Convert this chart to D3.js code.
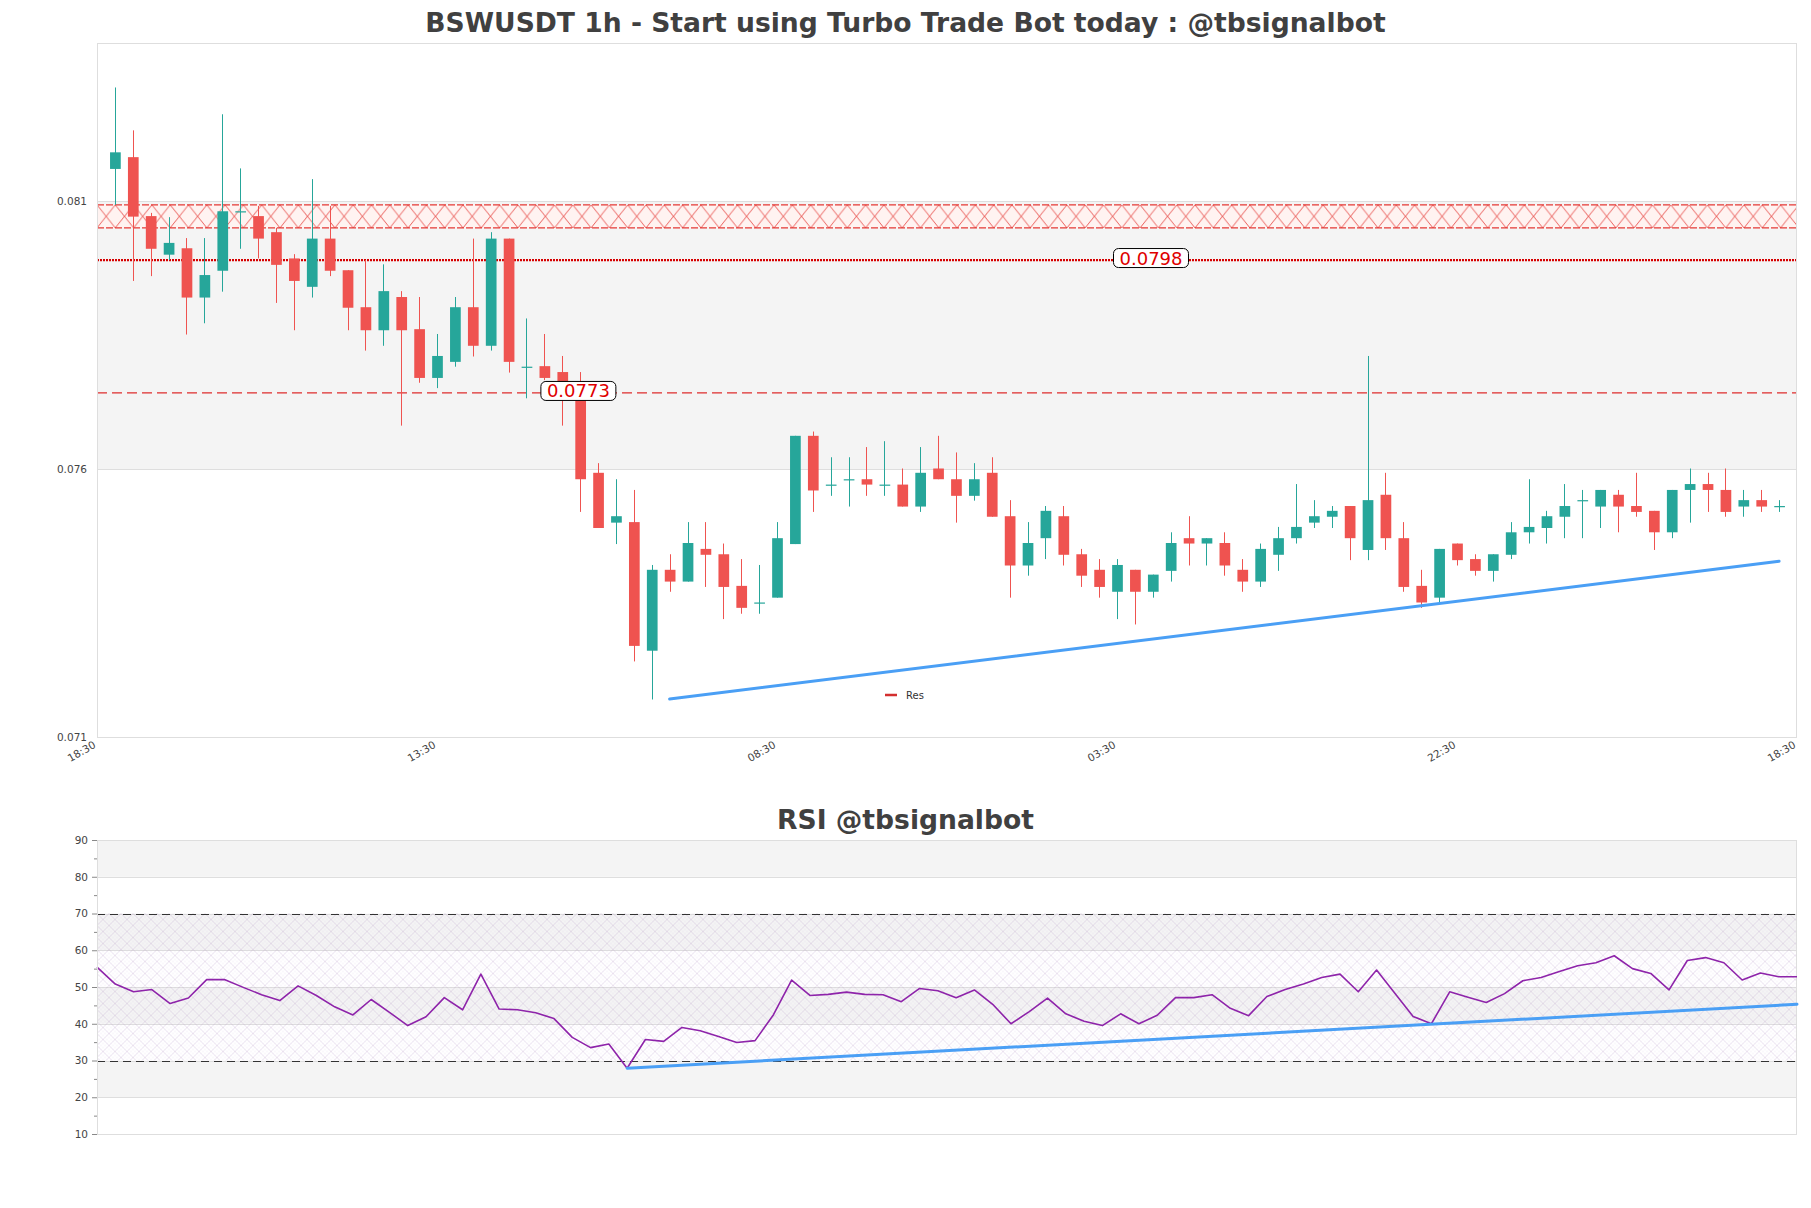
<!DOCTYPE html>
<html><head><meta charset="utf-8">
<script src="https://cdn.jsdelivr.net/npm/d3@7"></script>
<style>
body{margin:0;background:#fff;}
svg{display:block;font-family:"DejaVu Sans",sans-serif;}
</style>
</head><body>
<svg id="c" width="1811" height="1208"></svg>
<script>
// ---------- DATA ----------
const chartTitle = "BSWUSDT 1h - Start using Turbo Trade Bot today : @tbsignalbot";
const rsiTitle = "RSI @tbsignalbot";

const opens = [0.08160,0.08182,0.08072,0.08000,0.08012,0.07920,0.07970,0.08080,0.08072,0.08042,
0.07993,0.07940,0.08030,0.07971,0.07902,0.07859,0.07921,0.07861,0.07770,0.07800,
0.07902,0.07830,0.08030,0.07790,0.07792,0.07781,0.07760,0.07593,0.07500,0.07501,
0.07261,0.07412,0.07390,0.07451,0.07441,0.07382,0.07350,0.07360,0.07460,0.07662,
0.07570,0.07580,0.07581,0.07570,0.07571,0.07530,0.07601,0.07581,0.07550,0.07593,
0.07512,0.07420,0.07471,0.07512,0.07441,0.07412,0.07371,0.07412,0.07371,0.07410,
0.07471,0.07461,0.07462,0.07412,0.07390,0.07440,0.07471,0.07500,0.07511,0.07531,
0.07449,0.07552,0.07471,0.07382,0.07360,0.07461,0.07432,0.07410,0.07440,0.07482,
0.07490,0.07511,0.07541,0.07530,0.07552,0.07531,0.07522,0.07482,0.07561,0.07572,
0.07561,0.07530,0.07542,0.07530];
const highs = [0.08312,0.08232,0.08078,0.08070,0.08031,0.08031,0.08262,0.08161,0.08091,0.08050,
0.08001,0.08141,0.08091,0.07971,0.07990,0.07982,0.07932,0.07921,0.07852,0.07921,
0.08030,0.08042,0.08030,0.07881,0.07852,0.07811,0.07781,0.07611,0.07581,0.07561,
0.07421,0.07441,0.07501,0.07501,0.07461,0.07432,0.07421,0.07501,0.07662,0.07670,
0.07622,0.07622,0.07641,0.07652,0.07601,0.07641,0.07662,0.07631,0.07611,0.07622,
0.07542,0.07501,0.07531,0.07531,0.07451,0.07432,0.07432,0.07412,0.07403,0.07482,
0.07512,0.07471,0.07482,0.07432,0.07461,0.07492,0.07572,0.07542,0.07531,0.07531,
0.07811,0.07593,0.07501,0.07412,0.07451,0.07461,0.07441,0.07441,0.07501,0.07581,
0.07522,0.07572,0.07561,0.07561,0.07561,0.07593,0.07522,0.07561,0.07601,0.07593,
0.07601,0.07561,0.07561,0.07542];
const lows = [0.08093,0.07951,0.07960,0.07990,0.07851,0.07872,0.07931,0.08011,0.07993,0.07910,
0.07859,0.07920,0.07960,0.07859,0.07821,0.07830,0.07681,0.07761,0.07751,0.07791,
0.07810,0.07821,0.07780,0.07732,0.07766,0.07681,0.07520,0.07490,0.07460,0.07241,
0.07170,0.07371,0.07390,0.07380,0.07320,0.07330,0.07330,0.07360,0.07460,0.07520,
0.07550,0.07530,0.07550,0.07550,0.07530,0.07520,0.07581,0.07500,0.07541,0.07511,
0.07360,0.07401,0.07432,0.07420,0.07380,0.07360,0.07320,0.07310,0.07360,0.07390,
0.07420,0.07420,0.07401,0.07371,0.07380,0.07410,0.07461,0.07490,0.07490,0.07430,
0.07430,0.07449,0.07371,0.07341,0.07351,0.07420,0.07401,0.07390,0.07432,0.07461,
0.07461,0.07471,0.07471,0.07490,0.07482,0.07511,0.07449,0.07471,0.07500,0.07520,
0.07511,0.07511,0.07520,0.07520];
const closes = [0.08191,0.08071,0.08011,0.08022,0.07920,0.07962,0.08081,0.08081,0.08030,0.07981,
0.07951,0.08030,0.07970,0.07901,0.07859,0.07932,0.07859,0.07770,0.07811,0.07902,
0.07830,0.08030,0.07800,0.07791,0.07770,0.07760,0.07581,0.07490,0.07512,0.07270,
0.07412,0.07390,0.07462,0.07440,0.07380,0.07341,0.07351,0.07471,0.07662,0.07560,
0.07571,0.07581,0.07571,0.07571,0.07530,0.07593,0.07581,0.07550,0.07581,0.07511,
0.07420,0.07462,0.07522,0.07440,0.07401,0.07380,0.07421,0.07371,0.07403,0.07462,
0.07461,0.07471,0.07420,0.07390,0.07451,0.07471,0.07492,0.07512,0.07522,0.07471,
0.07542,0.07471,0.07380,0.07351,0.07451,0.07430,0.07410,0.07441,0.07482,0.07492,
0.07512,0.07531,0.07542,0.07561,0.07530,0.07520,0.07482,0.07561,0.07572,0.07561,
0.07520,0.07542,0.07530,0.07531];

const xTickIndex = [0, 19, 38, 57, 76, 95];
const xTickLabels = ["18:30", "13:30", "08:30", "03:30", "22:30", "18:30"];
const xSlots = 95;                 // category slots on the price axis
const priceTicks = [0.071, 0.076, 0.081];
const priceDomain = [0.071, 0.08395];

const resZone = [0.0805, 0.08093];
const levelValues = [0.07990, 0.07742];
const levelLabels = ["0.0798", "0.0773"];
const levelLabelAt = [58.9, 26.9];
const levelKinds = ["dotted", "dashed"];

const trendIdx = [32, 94];
const trendVal = [0.07171, 0.07428];
const legendLabels = ["Res"];

const rsi = [55.4,50.8,48.7,49.3,45.5,47.0,52.0,52.0,49.9,47.9,
46.3,50.3,47.7,44.6,42.4,46.6,43.1,39.5,41.9,47.1,
43.8,53.5,44.0,43.8,43.0,41.4,36.3,33.5,34.5,27.9,
35.7,35.2,39.0,38.1,36.5,34.9,35.4,42.4,51.9,47.7,
48.0,48.6,48.0,47.9,46.0,49.6,49.0,47.1,49.2,45.3,
40.0,43.3,47.0,42.7,40.7,39.5,42.7,40.0,42.3,47.1,
47.1,47.9,44.2,42.2,47.4,49.3,50.8,52.6,53.5,48.7,
54.6,48.3,42.0,40.0,48.7,47.2,45.8,48.2,51.7,52.6,
54.2,55.8,56.6,58.5,55.0,53.7,49.2,57.2,58.0,56.6,
51.9,53.8,52.8,52.8];
const rsiTicks = [10, 20, 30, 40, 50, 60, 70, 80, 90];
const rsiMinorTicks = [15, 25, 35, 45, 55, 65, 75, 85];
const rsiLevels = [70, 30];
const rsiZone = [30, 70];
const rsiTrendIdx = [29, 93];
const rsiTrendVal = [27.9, 45.3];

// ---------- LAYOUT ----------
const W = 1811;
const L = 97, R = 1797;
const mainTop = 43, mainBot = 737;
const rsiTop = 840, rsiBot = 1134;
const UP = "#26a69a", DOWN = "#ef5350";
const BAND = "#f4f4f4", GRID = "#dedede", TXT = "#444";

const svg = d3.select("#c");
const defs = svg.append("defs");

const x = d3.scaleLinear().domain([0, xSlots]).range([L, R]);
const y = d3.scaleLinear().domain(priceDomain).range([mainBot, mainTop]);
const xr = d3.scaleLinear().domain([0, rsi.length - 1]).range([L, R]);
const yr = d3.scaleLinear().domain([rsiTicks[0], rsiTicks[rsiTicks.length - 1]]).range([rsiBot, rsiTop]);

// titles fitted to reference widths
function fitTitle(txt, cx, baseY, targetW) {
  const t = svg.append("text").text(txt).attr("x", cx).attr("y", baseY)
    .attr("text-anchor", "middle").attr("font-weight", "bold")
    .attr("font-size", 27).attr("fill", "#404040");
  const w = t.node().getComputedTextLength();
  t.attr("font-size", 27 * targetW / w);
}
fitTitle(chartTitle, W / 2, 32, 961);
fitTitle(rsiTitle, W / 2, 829, 257);

// ---------- MAIN PRICE CHART ----------
const gm = svg.append("g");
const pBounds = [priceDomain[0], ...priceTicks.filter(t => t > priceDomain[0]), priceDomain[1]];
for (let k = 0; k < pBounds.length - 1; k++) {
  gm.append("rect").attr("x", L).attr("width", R - L)
    .attr("y", y(pBounds[k + 1])).attr("height", y(pBounds[k]) - y(pBounds[k + 1]))
    .attr("fill", k % 2 ? BAND : "#fff");
}
priceTicks.forEach(t => gm.append("line").attr("x1", L).attr("x2", R)
  .attr("y1", Math.round(y(t)) + 0.5).attr("y2", Math.round(y(t)) + 0.5)
  .attr("stroke", GRID).attr("stroke-width", 1));

// resistance zone hatch
const zTop = y(resZone[1]), zBot = y(resZone[0]), zH = zBot - zTop;
const pat = defs.append("pattern").attr("id", "zoneHatch").attr("patternUnits", "userSpaceOnUse")
  .attr("x", L).attr("y", zTop).attr("width", 18.3).attr("height", zH);
pat.append("rect").attr("width", 18.3).attr("height", zH).attr("fill", "#fff3f1");
pat.append("line").attr("x1", 0).attr("y1", 0).attr("x2", 18.3).attr("y2", zH).attr("stroke", "#e53935").attr("stroke-width", 0.8);
pat.append("line").attr("x1", 18.3).attr("y1", 0).attr("x2", 0).attr("y2", zH).attr("stroke", "#e53935").attr("stroke-width", 0.8);
gm.append("rect").attr("x", L).attr("width", R - L).attr("y", zTop).attr("height", zH).attr("fill", "url(#zoneHatch)");
[zTop, zBot].forEach(v => gm.append("line").attr("x1", L).attr("x2", R).attr("y1", v).attr("y2", v)
  .attr("stroke", "#e53935").attr("stroke-width", 1.2).attr("stroke-dasharray", "7,2"));

// horizontal levels
levelValues.forEach((v, k) => {
  const ln = gm.append("line").attr("x1", L).attr("x2", R).attr("y1", y(v)).attr("y2", y(v));
  if (levelKinds[k] === "dotted") ln.attr("stroke", "#d50000").attr("stroke-width", 2.2).attr("stroke-dasharray", "2,1");
  else ln.attr("stroke", "#dd2c2c").attr("stroke-width", 1.2).attr("stroke-dasharray", "10,5");
});

// border
gm.append("rect").attr("x", L + 0.5).attr("y", mainTop + 0.5).attr("width", R - L - 1).attr("height", mainBot - mainTop)
  .attr("fill", "none").attr("stroke", GRID);

// candles
const candles = opens.map((o, i) => ({ i: i + 1, o, h: highs[i], l: lows[i], c: closes[i] }));
const bw = 10.7;
const gc = gm.append("g");
gc.selectAll("line.wick").data(candles).join("line").attr("class", "wick")
  .attr("x1", d => Math.round(x(d.i)) + 0.5).attr("x2", d => Math.round(x(d.i)) + 0.5)
  .attr("y1", d => y(d.h)).attr("y2", d => y(d.l))
  .attr("stroke", d => d.c >= d.o ? UP : DOWN).attr("stroke-width", 1);
gc.selectAll("rect.body").data(candles).join("rect").attr("class", "body")
  .attr("x", d => x(d.i) - bw / 2 + 0.5).attr("width", bw)
  .attr("y", d => Math.min(y(d.o), y(d.c)))
  .attr("height", d => Math.max(1.2, Math.abs(y(d.o) - y(d.c))))
  .attr("fill", d => d.c >= d.o ? UP : DOWN);

// trend line
gm.append("line").attr("x1", x(trendIdx[0])).attr("y1", y(trendVal[0]))
  .attr("x2", x(trendIdx[1])).attr("y2", y(trendVal[1]))
  .attr("stroke", "#4a9ff5").attr("stroke-width", 3).attr("stroke-linecap", "round");

// level labels
levelValues.forEach((v, k) => {
  const g = gm.append("g").attr("transform", `translate(${x(levelLabelAt[k])},${y(v) - 2})`);
  const r = g.append("rect");
  const t = g.append("text").text(levelLabels[k]).attr("text-anchor", "middle").attr("dy", "0.36em")
    .attr("font-size", 18).attr("fill", "#e00000");
  const w = t.node().getComputedTextLength();
  r.attr("x", -w / 2 - 6).attr("y", -9.5).attr("width", w + 12).attr("height", 19).attr("rx", 5)
    .attr("fill", "#fff").attr("stroke", "#000").attr("stroke-width", 1);
});

// axes
const yAxis = d3.axisLeft(y).tickValues(priceTicks).tickSize(0).tickPadding(10).tickFormat(d3.format(".3f"));
const gya = svg.append("g").attr("transform", `translate(${L},0)`).call(yAxis);
gya.select(".domain").remove();
gya.selectAll("text").attr("font-size", 10.5).attr("fill", TXT).attr("font-family", "DejaVu Sans");

const xAxis = d3.axisBottom(x).tickValues(xTickIndex).tickSize(0).tickFormat((d, i) => xTickLabels[i]);
const gxa = svg.append("g").attr("transform", `translate(0,${mainBot})`).call(xAxis);
gxa.select(".domain").remove();
gxa.selectAll("text").attr("font-size", 10.5).attr("fill", TXT).attr("font-family", "DejaVu Sans")
  .attr("text-anchor", "end").attr("dy", null).attr("y", null)
  .attr("transform", "translate(-1,10) rotate(-30)");

// legend
const lg = svg.append("g").attr("transform", `translate(885,695)`);
legendLabels.forEach((lab, k) => {
  lg.append("line").attr("x1", 0).attr("x2", 12).attr("y1", 0).attr("y2", 0).attr("stroke", "#d32f2f").attr("stroke-width", 2.5);
  lg.append("text").text(lab).attr("x", 21).attr("dy", "0.35em").attr("font-size", 10).attr("fill", "#333");
});

// ---------- RSI CHART ----------
const gr = svg.append("g");
for (let k = 0; k < rsiTicks.length - 1; k++) {
  gr.append("rect").attr("x", L).attr("width", R - L)
    .attr("y", yr(rsiTicks[k + 1])).attr("height", yr(rsiTicks[k]) - yr(rsiTicks[k + 1]))
    .attr("fill", k % 2 ? BAND : "#fff");
}
rsiTicks.forEach(t => gr.append("line").attr("x1", L).attr("x2", R)
  .attr("y1", Math.round(yr(t)) + 0.5).attr("y2", Math.round(yr(t)) + 0.5)
  .attr("stroke", GRID));

// hatch 30-70
const rp = defs.append("pattern").attr("id", "rsiHatch").attr("patternUnits", "userSpaceOnUse")
  .attr("x", L).attr("y", yr(rsiZone[1])).attr("width", 12).attr("height", 12);
rp.append("path").attr("d", "M0,0L12,12M12,0L0,12").attr("stroke", "rgba(150,110,170,0.2)").attr("stroke-width", 0.8);
const rp2 = defs.append("pattern").attr("id", "rsiHatch2").attr("patternUnits", "userSpaceOnUse")
  .attr("x", L).attr("y", yr(rsiZone[1])).attr("width", 4).attr("height", 4);
rp2.append("path").attr("d", "M0,0L4,4M4,0L0,4").attr("stroke", "rgba(190,150,210,0.12)").attr("stroke-width", 0.6);
gr.append("rect").attr("x", L).attr("width", R - L).attr("y", yr(rsiZone[1])).attr("height", yr(rsiZone[0]) - yr(rsiZone[1]))
  .attr("fill", "url(#rsiHatch2)");
gr.append("rect").attr("x", L).attr("width", R - L).attr("y", yr(rsiZone[1])).attr("height", yr(rsiZone[0]) - yr(rsiZone[1]))
  .attr("fill", "url(#rsiHatch)");

rsiLevels.forEach(v => gr.append("line").attr("x1", L).attr("x2", R)
  .attr("y1", Math.round(yr(v)) + 0.5).attr("y2", Math.round(yr(v)) + 0.5)
  .attr("stroke", "#333").attr("stroke-width", 1).attr("stroke-dasharray", "8,5"));

gr.append("rect").attr("x", L + 0.5).attr("y", rsiTop + 0.5).attr("width", R - L - 1).attr("height", rsiBot - rsiTop)
  .attr("fill", "none").attr("stroke", GRID);

// RSI line
gr.append("path").datum(rsi)
  .attr("d", d3.line().x((d, i) => xr(i)).y(d => yr(d)))
  .attr("fill", "none").attr("stroke", "#8e24aa").attr("stroke-width", 1.6).attr("stroke-linejoin", "round");

// RSI trend
gr.append("line").attr("x1", xr(rsiTrendIdx[0])).attr("y1", yr(rsiTrendVal[0]))
  .attr("x2", xr(rsiTrendIdx[1])).attr("y2", yr(rsiTrendVal[1]))
  .attr("stroke", "#4a9ff5").attr("stroke-width", 3).attr("stroke-linecap", "round");

// RSI axis
const ryAxis = d3.axisLeft(yr).tickValues(rsiTicks).tickSize(5).tickPadding(4);
const gry = svg.append("g").attr("transform", `translate(${L},0)`).call(ryAxis);
gry.select(".domain").attr("stroke", GRID);
gry.selectAll("line").attr("stroke", "#888");
gry.selectAll("text").attr("font-size", 10.5).attr("fill", TXT).attr("font-family", "DejaVu Sans");
const ryMinor = d3.axisLeft(yr).tickValues(rsiMinorTicks).tickSize(3).tickFormat("");
const grm = svg.append("g").attr("transform", `translate(${L},0)`).call(ryMinor);
grm.select(".domain").remove();
grm.selectAll("line").attr("stroke", "#888");
</script>
</body></html>
